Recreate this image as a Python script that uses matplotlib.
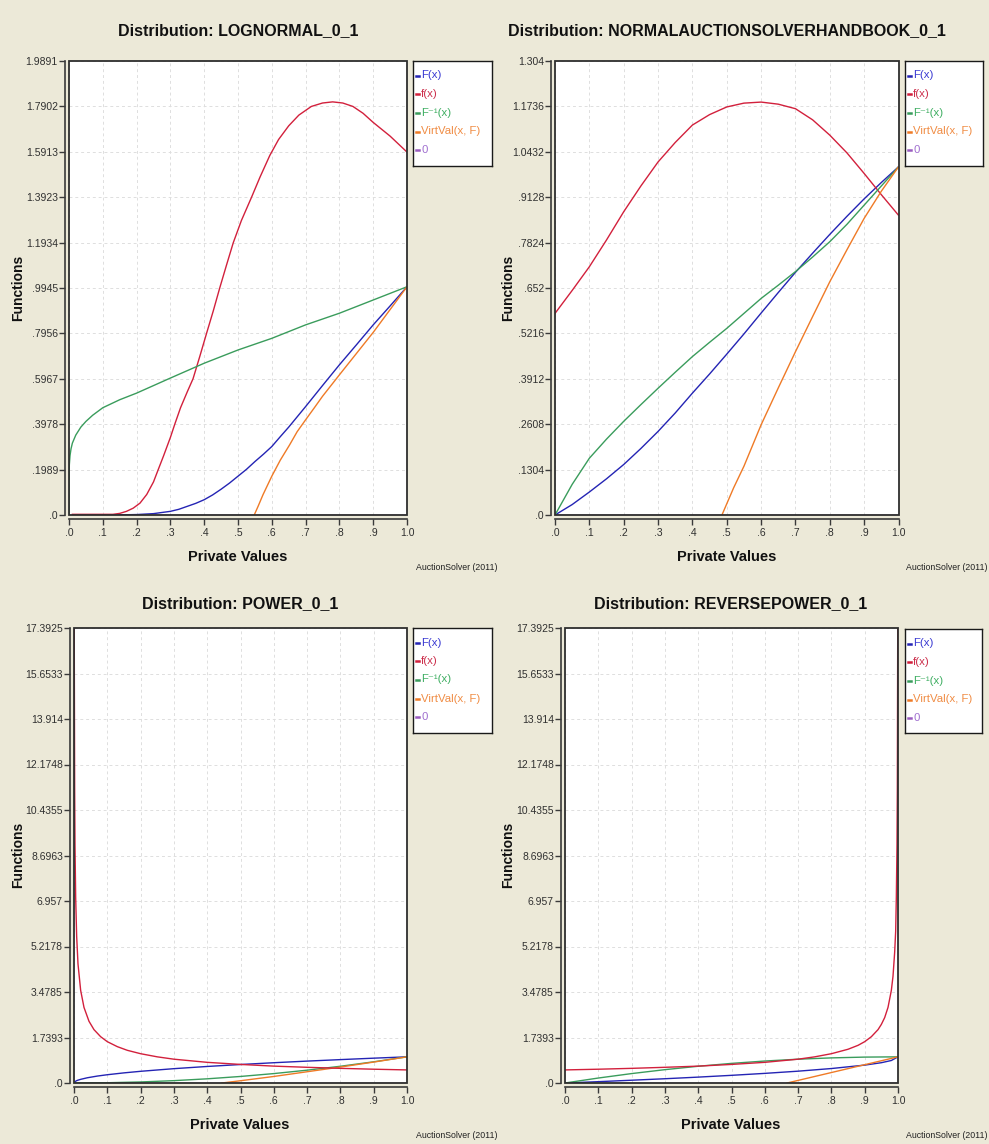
import matplotlib
matplotlib.use('Agg')
import numpy as np
import matplotlib.pyplot as plt
from matplotlib.patches import Rectangle

plt.rcParams['font.family'] = ['Liberation Sans', 'DejaVu Sans']

W, H = 989, 1144
BG = '#ECE9D8'

# series colours (line, legend text)
C_F, C_f, C_INV, C_VV, C_ZERO = '#2424b4', '#d2203c', '#3a9c5c', '#ef7a26', '#9a5cc0'
T_F, T_f, T_INV, T_VV, T_ZERO = '#3a3ad2', '#cc2f4c', '#3fae62', '#f08c44', '#a070d0'

legend_labels = ['F(x)', 'f(x)', 'F\u207b\u00b9(x)', 'VirtVal(x, F)', '0']
x_tick_labels = ['.0', '.1', '.2', '.3', '.4', '.5', '.6', '.7', '.8', '.9', '1.0']
x_tenths = [0.0, 0.1, 0.2, 0.3, 0.4, 0.5, 0.6, 0.7, 0.8, 0.9, 1.0]
x_twentieths = [0.0, 0.05, 0.1, 0.15, 0.2, 0.25, 0.3, 0.35, 0.4, 0.45, 0.5,
                0.55, 0.6, 0.65, 0.7, 0.75, 0.8, 0.85, 0.9, 0.95, 1.0]
zero_x = [0.0, 1.0]
zero_y = [0.0, 0.0]

# ---- LOGNORMAL_0_1 ----
ln_ymax = 1.9891
ln_ylabels = ['.0', '.1989', '.3978', '.5967', '.7956', '.9945',
              '1.1934', '1.3923', '1.5913', '1.7902', '1.9891']
ln_F_x = [0.13, 0.2, 0.25, 0.3, 0.325, 0.35, 0.375, 0.4, 0.425, 0.45, 0.475,
          0.5, 0.525, 0.55, 0.575, 0.6, 0.625, 0.65, 0.675, 0.7, 0.75, 0.8,
          0.85, 0.9, 0.95, 1.0]
ln_F_y = [0.0, 0.002, 0.006, 0.016, 0.025, 0.038, 0.051, 0.067, 0.088, 0.113,
          0.14, 0.17, 0.2, 0.234, 0.266, 0.30, 0.343, 0.385, 0.43, 0.475,
          0.567, 0.658, 0.745, 0.833, 0.916, 1.0]
ln_f_x = [0.01, 0.13, 0.15, 0.17, 0.19, 0.21, 0.23, 0.25, 0.264, 0.28, 0.30,
          0.313, 0.33, 0.35, 0.367, 0.387, 0.407, 0.427, 0.446, 0.466, 0.486,
          0.51, 0.54, 0.565, 0.594, 0.62, 0.65, 0.68, 0.717, 0.75, 0.78, 0.81,
          0.84, 0.87, 0.9, 0.95, 1.0]
ln_f_y = [0.003, 0.003, 0.007, 0.016, 0.03, 0.052, 0.09, 0.145, 0.199, 0.26,
          0.34, 0.398, 0.47, 0.54, 0.597, 0.695, 0.796, 0.895, 0.995, 1.095,
          1.193, 1.29, 1.392, 1.48, 1.575, 1.645, 1.705, 1.752, 1.79, 1.805,
          1.81, 1.805, 1.79, 1.76, 1.72, 1.66, 1.59]
ln_inv_x = [0.0, 0.0, 0.001, 0.003, 0.006, 0.01, 0.02, 0.035, 0.05, 0.07, 0.1,
            0.15, 0.2, 0.25, 0.3, 0.4, 0.5, 0.6, 0.7, 0.8, 0.9, 1.0]
ln_inv_y = [0.0, 0.15, 0.22, 0.26, 0.29, 0.315, 0.35, 0.385, 0.41, 0.437, 0.47,
            0.505, 0.534, 0.567, 0.60, 0.665, 0.723, 0.774, 0.833, 0.884, 0.942, 1.0]
ln_vv_x = [0.548, 0.56, 0.574, 0.6, 0.625, 0.653, 0.675, 0.7, 0.725, 0.75, 0.8,
           0.85, 0.9, 0.95, 1.0]
ln_vv_y = [0.0, 0.04, 0.089, 0.17, 0.24, 0.308, 0.365, 0.417, 0.468, 0.52,
           0.614, 0.707, 0.80, 0.90, 1.0]

# ---- NORMALAUCTIONSOLVERHANDBOOK_0_1 ----
nm_ymax = 1.304
nm_ylabels = ['.0', '.1304', '.2608', '.3912', '.5216', '.652',
              '.7824', '.9128', '1.0432', '1.1736', '1.304']
nm_f_y = [0.579, 0.645, 0.713, 0.79, 0.871, 0.945, 1.014, 1.07, 1.12, 1.15,
          1.172, 1.183, 1.186, 1.18, 1.167, 1.135, 1.091, 1.04, 0.981, 0.92, 0.861]
nm_F_y = [0.0, 0.03, 0.066, 0.104, 0.145, 0.191, 0.24, 0.293, 0.35, 0.405,
          0.462, 0.52, 0.58, 0.639, 0.697, 0.752, 0.806, 0.858, 0.908, 0.955, 1.0]
nm_inv_y = [0.0, 0.088, 0.163, 0.218, 0.269, 0.317, 0.364, 0.41, 0.455, 0.496,
            0.536, 0.579, 0.622, 0.66, 0.699, 0.741, 0.785, 0.835, 0.89, 0.945, 1.0]
nm_vv_x = [0.486, 0.52, 0.55, 0.6, 0.65, 0.7, 0.75, 0.8, 0.85, 0.9, 0.95, 1.0]
nm_vv_y = [0.0, 0.078, 0.14, 0.259, 0.365, 0.469, 0.57, 0.67, 0.762, 0.852, 0.93, 1.0]

# ---- POWER_0_1 / REVERSEPOWER_0_1 ----
pw_ymax = 17.3925
pw_ylabels = ['.0', '1.7393', '3.4785', '5.2178', '6.957', '8.6963',
              '10.4355', '12.1748', '13.914', '15.6533', '17.3925']
pw_f_x = [0.0008, 0.001, 0.002, 0.003, 0.005, 0.008, 0.012, 0.02, 0.03, 0.045,
          0.06, 0.08, 0.1, 0.13, 0.16, 0.2, 0.25, 0.3, 0.4, 0.5, 0.6, 0.7, 0.8, 0.9, 1.0]
pw_f_y = [17.39, 15.8, 11.2, 9.1, 7.1, 5.6, 4.55, 3.54, 2.89, 2.36,
          2.04, 1.77, 1.58, 1.39, 1.25, 1.12, 1.0, 0.91, 0.79, 0.71, 0.645, 0.6, 0.56, 0.527, 0.5]
pw_F_x = [0.0, 0.005, 0.01, 0.02, 0.04, 0.07, 0.1, 0.15, 0.2, 0.3, 0.4, 0.5,
          0.6, 0.7, 0.8, 0.9, 1.0]
pw_F_y = [0.0, 0.07, 0.1, 0.14, 0.2, 0.265, 0.316, 0.387, 0.447, 0.548, 0.632,
          0.707, 0.775, 0.837, 0.894, 0.949, 1.0]
pw_inv_y = [0.0, 0.01, 0.04, 0.09, 0.16, 0.25, 0.36, 0.49, 0.64, 0.81, 1.0]
pw_vv_x = [0.444, 0.5, 0.6, 0.7, 0.8, 0.9, 1.0]
pw_vv_y = [0.0, 0.086, 0.25, 0.43, 0.61, 0.80, 1.0]

rp_f_x = [0.0, 0.1, 0.2, 0.3, 0.4, 0.5, 0.6, 0.7, 0.75, 0.8, 0.85, 0.88, 0.9,
          0.92, 0.94, 0.95, 0.96, 0.97, 0.98, 0.985, 0.99, 0.993, 0.995, 0.997,
          0.998, 0.9992]
rp_f_y = [0.5, 0.527, 0.56, 0.6, 0.645, 0.71, 0.79, 0.91, 1.0, 1.12, 1.29, 1.44,
          1.58, 1.77, 2.04, 2.24, 2.5, 2.89, 3.54, 4.08, 5.0, 5.8, 7.1, 9.1,
          11.2, 17.39]
rp_F_x = [0.0, 0.1, 0.2, 0.3, 0.4, 0.5, 0.6, 0.7, 0.8, 0.9, 0.95, 0.98, 1.0]
rp_F_y = [0.0, 0.051, 0.106, 0.163, 0.225, 0.293, 0.368, 0.452, 0.553, 0.684,
          0.776, 0.86, 1.0]
rp_inv_y = [0.0, 0.19, 0.36, 0.51, 0.64, 0.75, 0.84, 0.91, 0.96, 0.99, 1.0]
rp_vv_x = [0.667, 0.8, 0.9, 1.0]
rp_vv_y = [0.0, 0.4, 0.7, 1.0]


fig = plt.figure(figsize=(W / 100, H / 100), dpi=100, facecolor=BG)


def fig_rect(l, t, r, b):
    return [l / W, 1 - b / H, (r - l) / W, (b - t) / H]


def draw_panel(box, legbox, title, ymax, ylabels, curves, title_xy, xlab_xy,
               ylab_xy, credit_xy):
    ax = fig.add_axes(fig_rect(*box))
    ax.set_facecolor('white')
    # the "0" series sits under everything else
    ax.plot(zero_x, zero_y, color=C_ZERO, lw=1.0, zorder=1)
    for cx, cy, col in curves:
        ax.plot(cx, cy, color=col, lw=1.0, zorder=3, solid_joinstyle='round')
    ax.set_xlim(0, 1)
    ax.set_ylim(0, ymax)
    ax.set_xticks(x_tenths)
    ax.set_xticklabels(x_tick_labels)
    ax.set_yticks(np.linspace(0, ymax, 11))
    ax.set_yticklabels(ylabels)
    ax.grid(True, color='#dedede', lw=0.7, ls=(0, (3, 3)), zorder=0)
    ax.set_axisbelow(True)
    for s in ['top', 'right']:
        ax.spines[s].set_visible(False)
    for s in ['left', 'bottom']:
        ax.spines[s].set_position(('outward', 3))
        ax.spines[s].set_color('#3a3a3a')
        ax.spines[s].set_linewidth(1.2)
    ax.add_patch(Rectangle((0, 0), 1, 1, transform=ax.transAxes, fill=False,
                           ec='#2e2e2e', lw=1.3, clip_on=False, zorder=5))
    ax.tick_params(direction='out', length=4, width=1, color='#3a3a3a',
                   labelsize=7.5, labelcolor='#303030', pad=2)
    ax.tick_params(axis='y', pad=1)

    # legend box
    lx0, ly0, lx1, ly1 = legbox
    lax = fig.add_axes(fig_rect(*legbox))
    lax.set_xlim(0, lx1 - lx0)
    lax.set_ylim(ly1 - ly0, 0)
    lax.set_xticks([])
    lax.set_yticks([])
    lax.set_facecolor('white')
    for s in lax.spines.values():
        s.set_color('#1a1a1a')
        s.set_linewidth(1.0)
    rows = [14.5, 33, 51.5, 70.5, 89]
    lcols = [C_F, C_f, C_INV, C_VV, C_ZERO]
    tcols = [T_F, T_f, T_INV, T_VV, T_ZERO]
    for yy, lab, lc, tc in zip(rows, legend_labels, lcols, tcols):
        lax.plot([2.5, 6.0], [yy, yy], color=lc, lw=1.8)
        lax.text(8.0, yy, lab, color=tc, fontsize=8.2, va='center', ha='left')

    fig.text(title_xy[0] / W, 1 - title_xy[1] / H, title, ha='center',
             va='center', fontsize=11.5, weight='bold', color='#111111')
    fig.text(xlab_xy[0] / W, 1 - xlab_xy[1] / H, 'Private Values', ha='center',
             va='center', fontsize=10.5, weight='bold', color='#111111')
    fig.text(ylab_xy[0] / W, 1 - ylab_xy[1] / H, 'Functions', ha='center',
             va='center', rotation=90, fontsize=10, weight='bold', color='#111111')
    fig.text(credit_xy[0] / W, 1 - credit_xy[1] / H, 'AuctionSolver (2011)',
             ha='right', va='center', fontsize=6.3, color='#222222')


draw_panel((69, 61, 407, 515), (413, 61, 492, 166),
           'Distribution: LOGNORMAL_0_1', ln_ymax, ln_ylabels,
           [(ln_F_x, ln_F_y, C_F), (ln_f_x, ln_f_y, C_f),
            (ln_inv_x, ln_inv_y, C_INV), (ln_vv_x, ln_vv_y, C_VV)],
           (238, 31), (238, 557), (18, 288), (497, 567))

draw_panel((555, 61, 898.5, 515), (905, 61, 983, 166),
           'Distribution: NORMALAUCTIONSOLVERHANDBOOK_0_1', nm_ymax, nm_ylabels,
           [(x_twentieths, nm_F_y, C_F), (x_twentieths, nm_f_y, C_f),
            (x_twentieths, nm_inv_y, C_INV), (nm_vv_x, nm_vv_y, C_VV)],
           (727, 31), (727, 557), (508, 288), (988, 567))

draw_panel((74, 628, 407, 1083), (413, 628, 492, 733),
           'Distribution: POWER_0_1', pw_ymax, pw_ylabels,
           [(pw_F_x, pw_F_y, C_F), (x_tenths, pw_inv_y, C_INV),
            (pw_vv_x, pw_vv_y, C_VV), (pw_f_x, pw_f_y, C_f)],
           (240, 604), (240, 1125), (18, 855), (497, 1135))

draw_panel((565, 628, 898, 1083), (905, 629, 982, 733),
           'Distribution: REVERSEPOWER_0_1', pw_ymax, pw_ylabels,
           [(rp_F_x, rp_F_y, C_F), (x_tenths, rp_inv_y, C_INV),
            (rp_vv_x, rp_vv_y, C_VV), (rp_f_x, rp_f_y, C_f)],
           (731, 604), (731, 1125), (508, 855), (988, 1135))

fig.savefig('out.png', dpi=100, facecolor=BG)
